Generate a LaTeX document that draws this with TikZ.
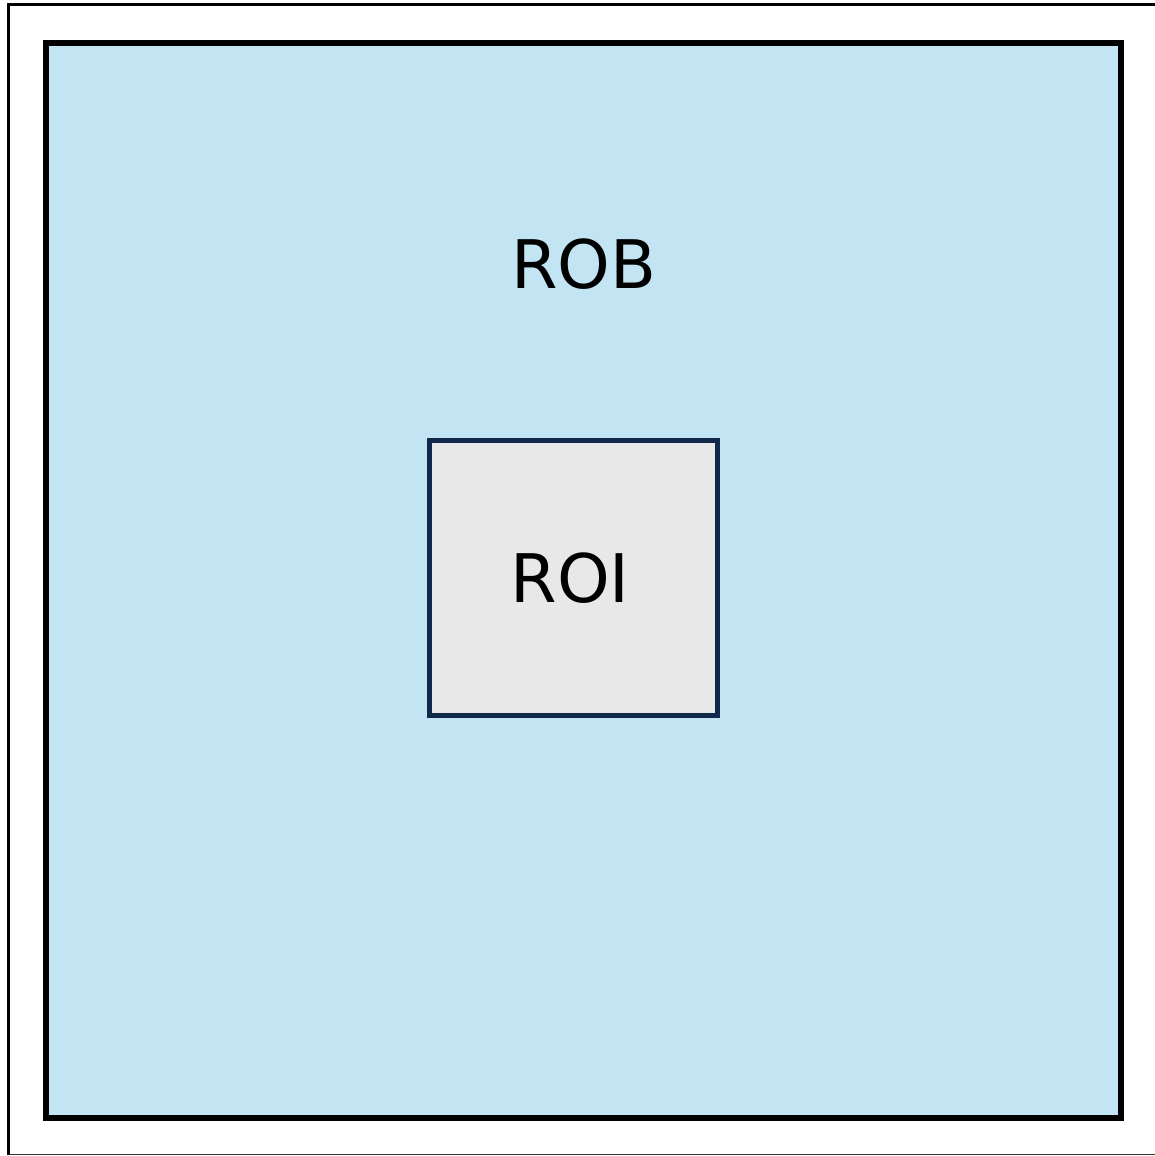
\documentclass[tikz,border=0pt]{standalone}
\usepackage{fontspec}
\setmainfont{DejaVu Sans}
\definecolor{robfill}{HTML}{C2E4F3}
\definecolor{roifill}{HTML}{E8E8E8}
\definecolor{roiedge}{HTML}{10294A}
\begin{document}
\begin{tikzpicture}[x=1pt,y=-1pt,
  robbox/.style={draw=black,line width=5.5pt,fill=robfill},
  roibox/.style={draw=roiedge,line width=5pt,fill=roifill},
  lbl/.style={font=\fontsize{67}{80}\selectfont,inner sep=0pt,anchor=center}]
\useasboundingbox (0,0) rectangle (1155,1156);
\fill[white] (0,0) rectangle (1155,1156);
\coordinate (fa) at (8.5,4.5);
\coordinate (fb) at (1160,4.5);
\coordinate (fc) at (8.5,1154.5);
\coordinate (fd) at (1160,1154.5);
\draw[line width=3pt] (fb) -- (fa) -- (fc);
\draw[line width=1pt,black!80] (fc) -- (fd);
\node[robbox,minimum width=1075pt,minimum height=1075pt,inner sep=0pt] (rob) at (583.6,580.5) {};
\node[roibox,minimum width=288pt,minimum height=275pt,inner sep=0pt] (roi) at (573.5,578) {};
\node[lbl] (robt) at (584,264) {ROB};
\node[lbl] (roit) at (570,578) {ROI};
\end{tikzpicture}
\end{document}
